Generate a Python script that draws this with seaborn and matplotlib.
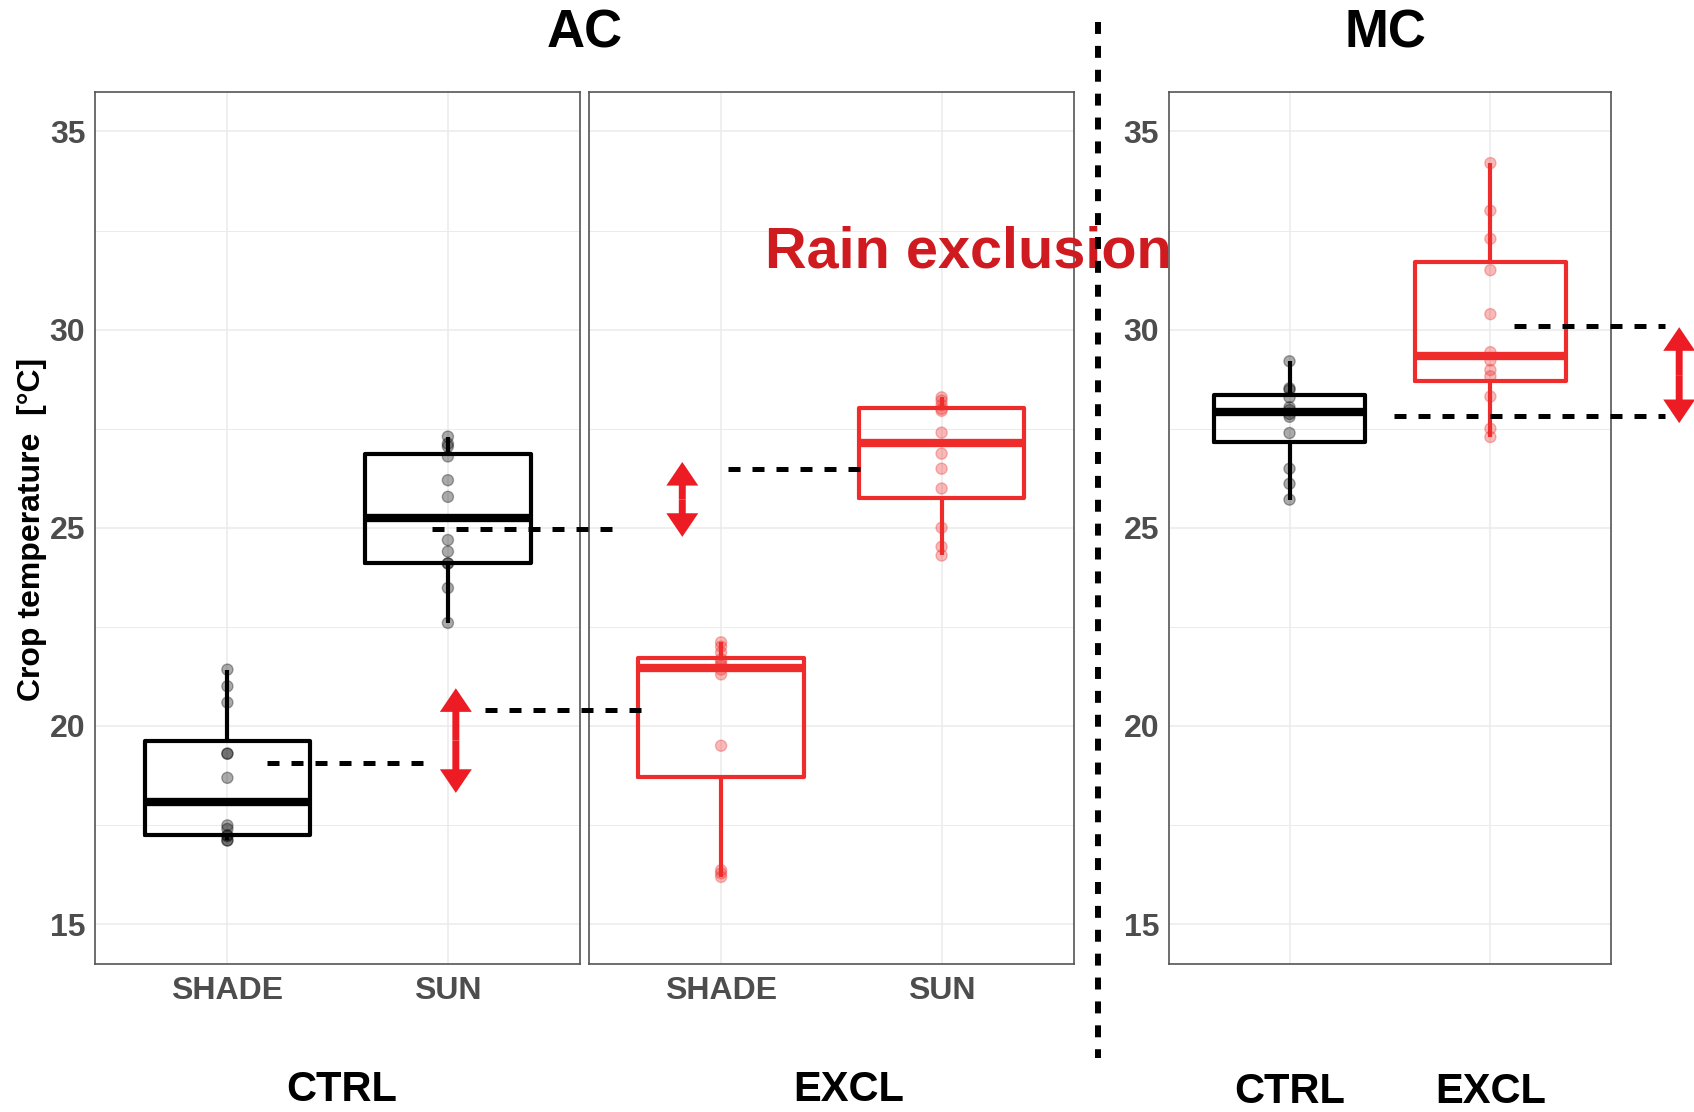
import numpy as np
import pandas as pd
import matplotlib
matplotlib.use("Agg")
import matplotlib.pyplot as plt
from matplotlib.lines import Line2D
from matplotlib.ticker import MultipleLocator
import seaborn as sns

# ── data: crop temperature [°C], 12 readings per group ──────────────────────
ac_ctrl_shade = [17.11, 17.11, 17.22, 17.24, 17.40, 17.49, 18.69, 19.30, 19.30, 20.59, 21.00, 21.42]
ac_ctrl_sun = [22.60, 23.48, 24.10, 24.10, 24.40, 24.69, 25.78, 26.20, 26.80, 27.05, 27.12, 27.30]
ac_excl_shade = [16.19, 16.28, 16.36, 19.50, 21.30, 21.42, 21.52, 21.60, 21.68, 21.85, 22.00, 22.11]
ac_excl_sun = [24.30, 24.52, 25.00, 25.99, 26.49, 26.87, 27.40, 27.95, 28.00, 28.10, 28.21, 28.29]
mc_ctrl = [25.71, 26.11, 26.49, 27.39, 27.80, 27.87, 27.97, 28.04, 28.29, 28.48, 28.52, 29.20]
mc_excl = [27.29, 27.50, 28.31, 28.82, 28.98, 29.22, 29.43, 30.39, 31.50, 32.29, 33.00, 34.20]

light = ["SHADE", "SUN"]
treat = ["CTRL", "EXCL"]

# dashed reference levels (panel, level °C, x-from, x-to in category units)
dash_panel = [0, 1, 1, 1, 2, 2]
dash_level = [19.06, 20.40, 24.96, 26.47, 27.81, 30.10]
dash_from = [0.18, -1.07, -1.31, 0.03, 0.52, 1.12]
dash_to = [0.89, -0.36, -0.49, 0.63, 1.87, 1.87]

# red double arrows (panel, x in category units, low / high °C)
arrow_panel = [0, 1, 2]
arrow_x = [1.036, -0.176, 1.94]
arrow_lo = [18.31, 24.77, 27.64]
arrow_hi = [20.95, 26.66, 30.06]

BLACK = "#000000"
RED = "#EE2C2C"
ARROW_RED = "#ED1C24"
TEXT_RED = "#CF1A20"


def long_df(groups, labels):
    return pd.DataFrame({
        "group": np.repeat(labels, [len(g) for g in groups]),
        "temp": np.concatenate(groups),
    })


sns.set_style("white")
plt.rcParams["font.family"] = ["Liberation Sans", "DejaVu Sans"]
plt.rcParams["font.weight"] = "bold"
plt.rcParams["text.color"] = "black"

W, H = 1694, 1112
fig = plt.figure(figsize=(W / 100, H / 100), dpi=100)


def rect(l, r, t=91.8, b=963.7):
    return [l / W, 1 - b / H, (r - l) / W, (b - t) / H]


ax1 = fig.add_axes(rect(95.1, 580.2))
ax2 = fig.add_axes(rect(588.8, 1073.9))
ax3 = fig.add_axes(rect(1169.0, 1610.9))
axes = [ax1, ax2, ax3]

panels = [
    (ax1, long_df([ac_ctrl_shade, ac_ctrl_sun], light), light, [BLACK, BLACK]),
    (ax2, long_df([ac_excl_shade, ac_excl_sun], light), light, [RED, RED]),
    (ax3, long_df([mc_ctrl, mc_excl], treat), treat, [BLACK, RED]),
]

for ax, df, order, pal in panels:
    sns.boxplot(data=df, x="group", y="temp", hue="group", order=order,
                hue_order=order, palette=pal, fill=False, width=0.75,
                linewidth=3.0, showcaps=False, showfliers=False,
                medianprops=dict(linewidth=6.0),
                whiskerprops=dict(linewidth=3.0),
                legend=False, ax=ax)
    sns.stripplot(data=df, x="group", y="temp", hue="group", order=order,
                  hue_order=order, palette=pal, jitter=False, size=8,
                  alpha=0.33, linewidth=0, legend=False, ax=ax, zorder=3)
    # ggplot-style points: a faint rim of the same colour
    for coll in ax.collections:
        coll.set_edgecolor(coll.get_facecolor())
        coll.set_linewidth(1.0)
    ax.set_xlim(-0.6, 1.6)
    ax.set_ylim(14, 36)
    ax.yaxis.set_major_locator(MultipleLocator(5))
    ax.yaxis.set_minor_locator(MultipleLocator(2.5))
    ax.set_axisbelow(True)
    ax.grid(which="major", color="#EBEBEB", lw=1.1)
    ax.grid(which="minor", axis="y", color="#EBEBEB", lw=0.7)
    ax.set_xlabel("")
    ax.set_ylabel("")
    for s in ax.spines.values():
        s.set_color("#555555")
        s.set_linewidth(1.2)
    ax.tick_params(axis="both", which="major", length=4, width=1,
                   color="#333333", labelsize=23, labelcolor="#4D4D4D")
    ax.tick_params(axis="x", pad=5)
    ax.tick_params(axis="y", pad=3)
    ax.tick_params(which="minor", length=0)

ax2.tick_params(axis="y", left=False, labelleft=False)
ax3.set_xticks([0, 1])
ax3.set_xticklabels(treat, fontsize=30, color="black")
ax3.tick_params(axis="x", pad=74, labelcolor="black")

# facet labels below the AC panels
ax1.text(0.508, -0.158, "CTRL", transform=ax1.transAxes, ha="center",
         va="baseline", fontsize=30, color="black")
ax2.text(0.536, -0.158, "EXCL", transform=ax2.transAxes, ha="center",
         va="baseline", fontsize=30, color="black")

# dashed reference lines and red gap arrows
for p, lv, x0, x1 in zip(dash_panel, dash_level, dash_from, dash_to):
    axes[p].hlines(lv, x0, x1, colors="black", linewidth=3.6,
                   linestyles=(0, (2.4, 2.4)), clip_on=False, zorder=5)
arrow_style = "simple,head_length=1.7,head_width=2.3,tail_width=0.5"
for p, x, lo, hi in zip(arrow_panel, arrow_x, arrow_lo, arrow_hi):
    mid = (lo + hi) / 2
    for end in (lo, hi):
        axes[p].annotate("", xy=(x, end), xytext=(x, mid), annotation_clip=False,
                         arrowprops=dict(arrowstyle=arrow_style, mutation_scale=10,
                                         lw=0, color=ARROW_RED,
                                         shrinkA=0, shrinkB=0), zorder=6)

# titles and labels
fig.text(584.5 / W, 1 - 47 / H, "AC", ha="center", va="baseline", fontsize=38,
         color="black")
fig.text(1385 / W, 1 - 47 / H, "MC", ha="center", va="baseline", fontsize=38,
         color="black")
fig.text(968.5 / W, 1 - 267 / H, "Rain exclusion", ha="center", va="baseline",
         fontsize=41.5, color=TEXT_RED)
fig.text(32 / W, 1 - 529 / H, "Crop temperature  [°C]", rotation=90,
         ha="center", va="center", fontsize=23, color="black")

# separator between AC and MC
fig.add_artist(Line2D([1098 / W, 1098 / W], [1 - 22 / H, 1 - 1058 / H],
                      transform=fig.transFigure, color="black", lw=4.3,
                      linestyle=(0, (2, 2)), zorder=10))

fig.savefig("out.png", dpi=100, facecolor="white")
